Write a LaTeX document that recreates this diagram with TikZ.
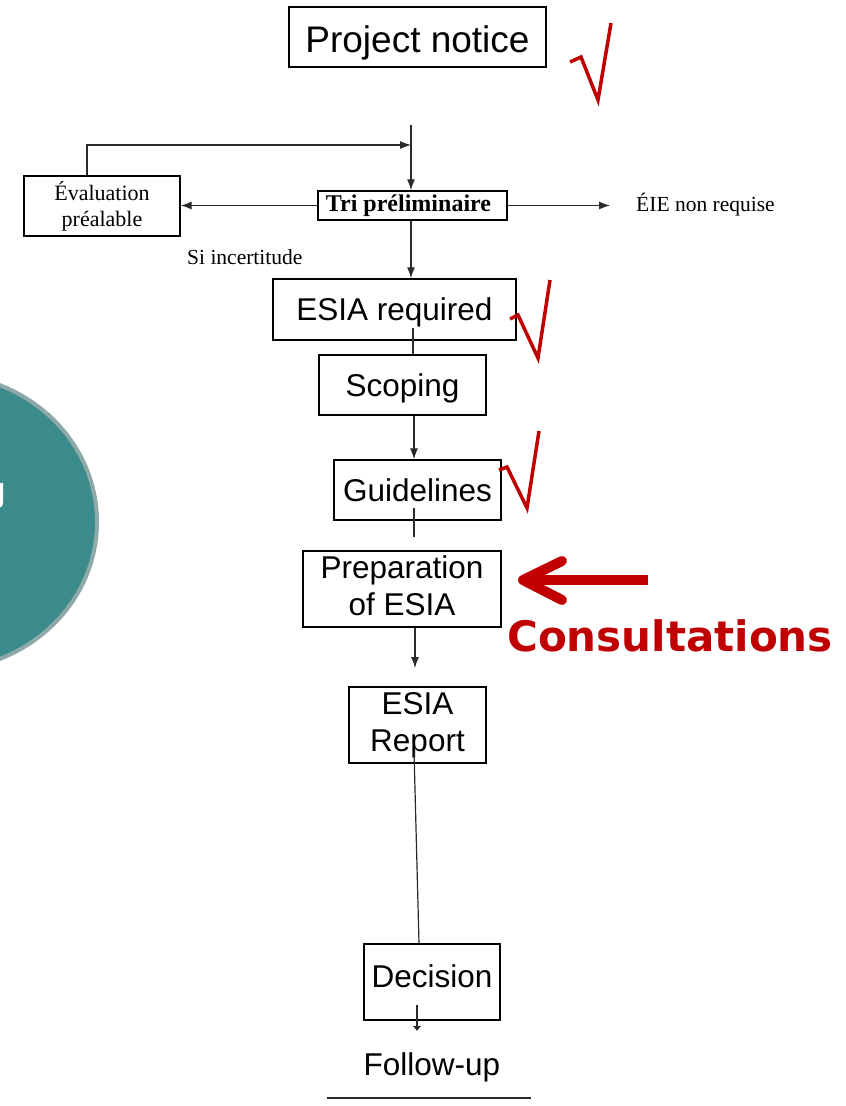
\documentclass[tikz,border=0pt]{standalone}
\usepackage{fontspec}
\setmainfont{Liberation Sans}
\newfontfamily\timesf{Liberation Serif}
\newfontfamily\dejab{DejaVu Sans}
\usetikzlibrary{arrows.meta,calc}
\definecolor{chkred}{HTML}{C00000}
\definecolor{tealfill}{HTML}{3B8A8C}
\definecolor{tealline}{HTML}{8FA8A8}
\definecolor{conn}{HTML}{2A2A2A}
\newcommand{\shiftv}[2]{\raisebox{#1}[\height][\depth]{#2}}
\newcommand{\twolines}[2]{\begin{tabular}{@{}c@{}}#1\\#2\end{tabular}}
\begin{document}
\begin{tikzpicture}[x=1pt,y=-1pt,
  box/.style={draw=black,line width=1.4pt,inner sep=0pt,align=center},
  bigtext/.style={font=\fontsize{31.5}{37}\selectfont},
  sertext/.style={font=\timesf\fontsize{21.5}{26}\selectfont},
  conline/.style={draw=conn,line width=1.2pt},
  arr/.style={conline,-{Latex[length=11pt,width=8pt]}},
  chk/.style={draw=chkred,line width=3.5pt,line join=miter},
]
\useasboundingbox[fill=white] (0,0) rectangle (846,1106);

% teal ellipse partially visible
\fill[tealfill,draw=tealline,line width=4pt] (-60,522) ellipse [x radius=157, y radius=148];
\fill[white] (-2,483) -- (3,483) -- (3,502) .. controls (3,507) and (0,508) .. (-2,508) -- cycle;

% boxes
\node[box,minimum width=257,minimum height=60,font=\fontsize{37}{42}\selectfont] (notice) at (417.5,37) {\shiftv{-6pt}{Project notice}};
\node[box,font=\timesf\fontsize{22}{26}\selectfont,minimum width=156,minimum height=60] (eval) at (102,206) {Évaluation\\préalable};
\node[box,minimum width=189,minimum height=29,font=\timesf\bfseries\fontsize{24}{28}\selectfont] (tri) at (412.5,205.5) {\hspace*{-8pt}Tri préliminaire};
\node[box,bigtext,minimum width=243,minimum height=61] (req) at (394.5,309.5) {\shiftv{-3pt}{ESIA required}};
\node[box,bigtext,minimum width=167,minimum height=60] (scoping) at (402.5,385) {\shiftv{-3pt}{Scoping}};
\node[box,bigtext,minimum width=167,minimum height=60] (guide) at (417.5,490) {Guidelines};
\node[box,bigtext,minimum width=198,minimum height=76] (prep) at (402,589) {\shiftv{-1pt}{\twolines{Preparation}{of ESIA}}};
\node[box,bigtext,minimum width=137,minimum height=76] (report) at (417.5,725) {\shiftv{-1pt}{\twolines{ESIA}{Report}}};
\node[box,bigtext,minimum width=136,minimum height=76] (decision) at (432,982) {\shiftv{6pt}{Decision}};
\node[bigtext,inner sep=0pt] (follow) at (432,1067) {Follow-up};

% free texts
\node[sertext,anchor=west,inner sep=0pt] (eie) at (636,205) {ÉIE non requise};
\node[sertext,anchor=west,inner sep=0pt] (si) at (187,257) {Si incertitude};
\node[font=\dejab\bfseries\fontsize{42}{48}\selectfont,text=chkred,inner sep=0pt] (cons) at (670,636) {Consultations};

% coordinates
\coordinate (top) at (411,125);
\coordinate (join) at (411,145);
\coordinate (eieend) at (610,205.5);
\coordinate (c1) at (413,0);
\coordinate (c2) at (414,0);
\coordinate (g1) at (414,537);
\coordinate (c3) at (415,0);
\coordinate (p1) at (415,668);
\coordinate (r1) at (414,0);
\coordinate (r2) at (419,0);
\coordinate (d1) at (417,1005);
\coordinate (d2) at (417,1031);
\coordinate (ul1) at (327,1098);
\coordinate (ul2) at (531,1098);

% connectors
\draw[arr] (top) -- (top |- tri.north);
\draw[arr] ([xshift=-15pt]eval.north) |- (join);
\draw[arr] (tri.west) -- (tri.west -| eval.east);
\draw[arr] (tri.east) -- (eieend);
\draw[arr] (tri.south -| top) -- (top |- req.north);
\draw[conline] ([yshift=13pt]req.south -| c1) -- (c1 |- scoping.north);
\draw[arr] (scoping.south -| c2) -- (c2 |- guide.north);
\draw[conline] ([yshift=13pt]guide.south -| c2) -- (g1);
\draw[arr] (prep.south -| c3) -- (p1);
\draw[conline] ([yshift=13pt]report.south -| r1) -- (decision.north -| r2);
\draw[conline,-{Latex[length=5pt,width=9pt]}] (d1) -- (d2);
\draw[conline] (ul1) -- (ul2);

% red consultation arrow
\coordinate (ra) at (648,580);
\coordinate (rb) at (528,580);
\coordinate (rt) at (523,580);
\draw[draw=chkred,line width=10pt] (ra) -- (rb);
\draw[draw=chkred,line width=10pt,line cap=round,line join=round] (562,561) -- (rt) -- (562,600);

% check marks
\draw[chk] (570,62) -- (581,57) -- (598,100) -- (611,23);
\draw[chk] (510,319) -- (518,315) -- (538,358) -- (550,280);
\draw[chk] (499,470) -- (507,467) -- (527,508) -- (539,431);
\end{tikzpicture}
\end{document}
